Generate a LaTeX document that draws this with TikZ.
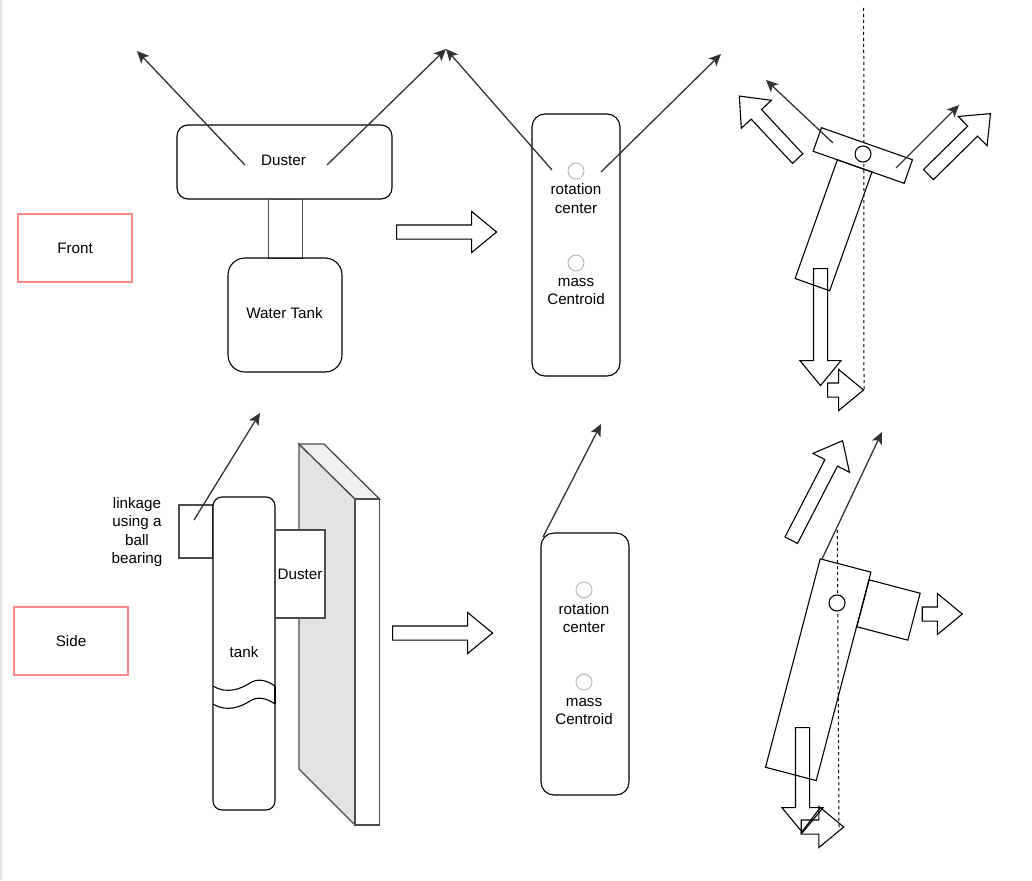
\documentclass[tikz,border=0pt]{standalone}
\usepackage{fontspec}
\setmainfont{Liberation Sans}
\usetikzlibrary{arrows.meta,shapes.arrows}
\definecolor{lblpink}{HTML}{FF8A8A}
\definecolor{arrgray}{HTML}{333333}
\definecolor{linegray}{HTML}{4D4D4D}
\definecolor{wallgray}{HTML}{E3E3E3}
\definecolor{walltop}{HTML}{F0F0F0}
\definecolor{dotgray}{HTML}{B8B8B8}
\begin{document}
\begin{tikzpicture}[x=1pt, y=-1pt,
  every node/.style={font=\fontsize{15.2}{18.6}\selectfont, inner sep=0pt, align=center},
  box/.style={draw=black, line width=1.1pt},
  part/.style={draw=linegray, line width=1.3pt},
  lbl/.style={draw=lblpink, line width=1.6pt, minimum width=114pt, minimum height=68pt},
  pivot/.style={circle, draw=black, fill=white, line width=1.1pt, minimum size=16pt},
  dot/.style={circle, draw=dotgray, line width=1pt, minimum size=16pt},
  blockarr/.style={single arrow, draw=black, line width=1.1pt, anchor=tail, inner ysep=6.5pt,
                   single arrow head extend=13.5pt, single arrow tip angle=79},
  arr/.style={-{Stealth[length=12pt,width=11pt,inset=3pt]}, arrgray, line width=1.3pt},
  guide/.style={black, line width=1pt, dash pattern=on 3pt off 3pt},
]
\useasboundingbox (0,0) rectangle (1032,880);
\fill[wallgray] (0,0) rectangle (2,880);

% Front view: parts
\node[box, rounded corners=11pt, minimum width=215pt, minimum height=74pt] (fduster) at (284.5,162) {};
\node (fdustertxt) at (283.5,160.5) {Duster};
\node[draw=linegray, line width=1pt, minimum width=34pt, minimum height=59pt] (fneck) at (285,228.5) {};
\node[box, rounded corners=17pt, minimum width=114pt, minimum height=114pt] (ftank) at (285,315) {};
\node (ftanktxt) at (284.5,313) {Water Tank};
\node[lbl] (front) at (75,248) {Front};
\coordinate (fl) at (245,165);
\coordinate (fla) at (137,51);
\coordinate (fr) at (327,165);
\coordinate (fra) at (446,49);
\draw[arr] (fl) -- (fla);
\draw[arr] (fr) -- (fra);
\node[blockarr, minimum height=100pt] (fgo) at (396,232) {};

% Front view: forces
\node[box, rounded corners=13pt, minimum width=88pt, minimum height=262pt] (fbody) at (576,245) {};
\node[dot] (frot) at (576,171) {};
\node (frottxt) at (576,198.5) {rotation\\center};
\node[dot] (fmass) at (576,263) {};
\node (fmasstxt) at (576,291.5) {mass\\Centroid};
\coordinate (fbl) at (552,170);
\coordinate (fbr) at (601,172);
\coordinate (fbra) at (721,54);
\draw[arr] (fbl) -- (fra);
\draw[arr] (fbr) -- (fbra);

% Front view: tilted
\coordinate (ftop) at (863.7,8);
\coordinate (fbot) at (864,390);
\draw[guide] (ftop) -- (fbot);
\node[box, rotate=-19.6, minimum width=36.7pt, minimum height=126pt] (tilttank) at (833.5,225.3) {};
\node[box, rotate=-19.4, minimum width=96.5pt, minimum height=25pt] (tiltduster) at (862.8,155.5) {};
\node[pivot] (tiltpiv) at (863,154) {};
\coordinate (tl) at (833,143);
\coordinate (tla) at (766,80);
\coordinate (tr) at (896,168);
\coordinate (tra) at (959,105);
\draw[arr] (tl) -- (tla);
\draw[arr] (tr) -- (tra);
\node[blockarr, rotate=133, minimum height=85.5pt] (ta1) at (798,159) {};
\node[blockarr, rotate=44.5, minimum height=87pt] (ta2) at (928,175) {};
\node[blockarr, rotate=-90, minimum height=117pt] (ta3) at (820.5,268) {};
\node[blockarr, minimum height=36pt] (ta4) at (827,390) {};

% Side view: parts
\node[lbl] (side) at (71,641) {Side};
\fill[wallgray, part] (299,444) -- (355,499) -- (355,825) -- (299,769) -- cycle;
\fill[walltop, part] (299,444) -- (324,444) -- (379.5,499) -- (355,499) -- cycle;
\draw[part, fill=white] (355,499) rectangle (379.5,825);
\node[part, minimum width=34pt, minimum height=53pt] (link) at (196,531.5) {};
\node (linktxt) at (137,532) {linkage\\using a\\ball\\bearing};
\node[box, fill=white, rounded corners=9pt, minimum width=62pt, minimum height=313pt] (stank) at (244,653.5) {};
\node (stanktxt) at (244,652) {tank};
\node[part, fill=white, minimum width=50pt, minimum height=88pt] (sduster) at (300,574) {Duster};
\draw[box] (213,686) .. controls (228,695) and (242,688) .. (250,683) .. controls (258,678) and (266,680) .. (275,686);
\draw[box] (213,704) .. controls (228,713) and (242,706) .. (250,701) .. controls (258,696) and (266,698) .. (275,704);
\draw[box] (275,686) -- (275,704);
\coordinate (sl) at (194,520);
\coordinate (sla) at (260,413);
\draw[arr] (sl) -- (sla);
\node[blockarr, minimum height=100pt] (sgo) at (392,633) {};

% Side view: forces
\node[box, rounded corners=13pt, minimum width=88pt, minimum height=262pt] (sbody) at (585,664) {};
\node[dot] (srot) at (584,590) {};
\node (srottxt) at (584,618) {rotation\\center};
\node[dot] (smass) at (584,682) {};
\node (smasstxt) at (584,711.5) {mass\\Centroid};
\coordinate (sb) at (543,537);
\coordinate (sba) at (601,424);
\draw[arr] (sb) -- (sba);

% Side view: tilted
\coordinate (stop) at (837.3,530);
\coordinate (sbot) at (839,827);
\draw[guide] (stop) -- (sbot);
\node[box, rotate=-14.7, minimum width=52.4pt, minimum height=215.5pt] (tiltbody) at (818.2,669.7) {};
\node[box, rotate=-14.7, minimum width=52.7pt, minimum height=48.5pt] (tiltdust) at (888.5,610) {};
\node[pivot] (sidepiv) at (837,603) {};
\coordinate (sc) at (822,559);
\coordinate (sca) at (882,432);
\draw[arr] (sc) -- (sca);
\node[blockarr, rotate=62.7, minimum height=112pt] (sa1) at (791,540.7) {};
\node[blockarr, minimum height=40pt] (sa2) at (921.7,614) {};
\node[blockarr, rotate=-90, minimum height=105pt] (sa3) at (802.5,727) {};
\node[blockarr, minimum height=42.5pt] (sa4) at (800.7,827) {};
\coordinate (sj) at (800.7,833.3);
\coordinate (sk) at (820,808);
\draw[box] (sj) -- (sk);

\end{tikzpicture}
\end{document}
